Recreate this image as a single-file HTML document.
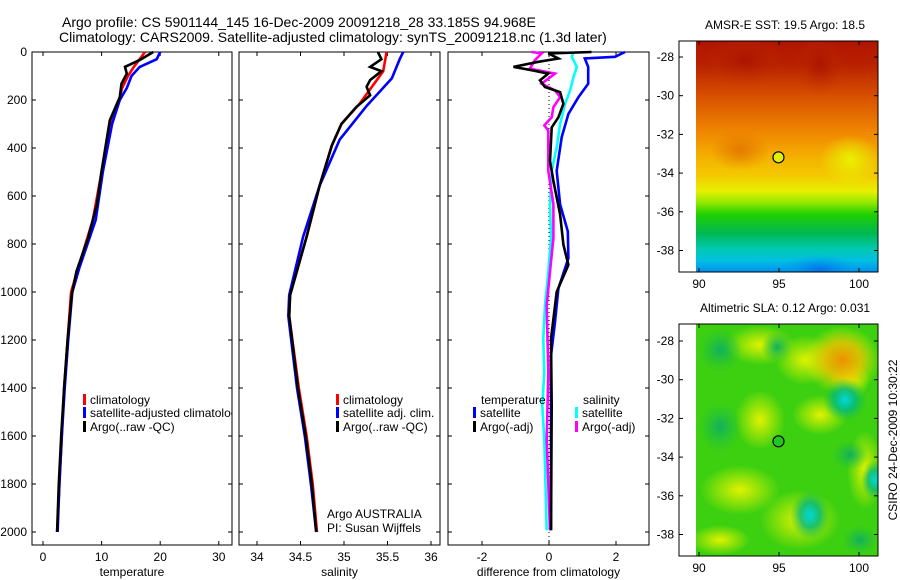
<!DOCTYPE html>
<html><head><meta charset="utf-8"><style>
html,body{margin:0;padding:0;background:#fff;}
svg{display:block;font-family:"Liberation Sans",sans-serif;}
text{fill:#000;}
</style></head><body>
<svg id="fig" width="900" height="580" viewBox="0 0 900 580">
<defs>
<clipPath id="clipSst"><rect x="696" y="41" width="182" height="231"/></clipPath>
<clipPath id="clipSla"><rect x="696" y="324" width="182" height="232"/></clipPath>
<clipPath id="clipP1"><rect x="32" y="52" width="200" height="493"/></clipPath>
<linearGradient id="sstGrad" x1="0" y1="0" x2="0" y2="1">
<stop offset="0" stop-color="#b01400"/>
<stop offset="0.1" stop-color="#b82000"/>
<stop offset="0.24" stop-color="#d85000"/>
<stop offset="0.4" stop-color="#f08800"/>
<stop offset="0.5" stop-color="#f4b000"/>
<stop offset="0.58" stop-color="#f4c800"/>
<stop offset="0.65" stop-color="#e8f000"/>
<stop offset="0.7" stop-color="#90e800"/>
<stop offset="0.75" stop-color="#20d000"/>
<stop offset="0.83" stop-color="#00b850"/>
<stop offset="0.9" stop-color="#00c8b0"/>
<stop offset="0.95" stop-color="#00c0e0"/>
<stop offset="1" stop-color="#0090f0"/>
</linearGradient>
<radialGradient id="blobY"><stop offset="0" stop-color="#e8f400" stop-opacity="0.95"/><stop offset="1" stop-color="#e8f400" stop-opacity="0"/></radialGradient>
<radialGradient id="blobO"><stop offset="0" stop-color="#f09000"/><stop offset="0.5" stop-color="#f4c000" stop-opacity="0.8"/><stop offset="1" stop-color="#e8f400" stop-opacity="0"/></radialGradient>
<radialGradient id="blobC"><stop offset="0" stop-color="#00d8e0"/><stop offset="0.5" stop-color="#00b880" stop-opacity="0.8"/><stop offset="1" stop-color="#20c040" stop-opacity="0"/></radialGradient>
<radialGradient id="blobT"><stop offset="0" stop-color="#10b060"/><stop offset="1" stop-color="#20c040" stop-opacity="0"/></radialGradient>
<radialGradient id="blobR"><stop offset="0" stop-color="#a81000" stop-opacity="0.8"/><stop offset="1" stop-color="#c03000" stop-opacity="0"/></radialGradient>
<radialGradient id="blobB"><stop offset="0" stop-color="#0070e8"/><stop offset="1" stop-color="#00a0f0" stop-opacity="0"/></radialGradient>
<radialGradient id="blobOr"><stop offset="0" stop-color="#e07000" stop-opacity="0.8"/><stop offset="1" stop-color="#e07000" stop-opacity="0"/></radialGradient>
</defs>
<text x="62" y="27" font-size="14">Argo profile: CS 5901144_145 16-Dec-2009 20091218_28 33.185S 94.968E</text>
<text x="59" y="42" font-size="14">Climatology: CARS2009. Satellite-adjusted climatology: synTS_20091218.nc (1.3d later)</text>
<g id="plots"></g>
</svg>
<script>
// ---------- data ----------
const depthClimT = [0,30,62,100,150,200,300,500,700,900,1000,1200,1400,1600,1800,2000];
const climT = [17.4,16.5,15.5,14.5,13.5,13,11.6,10,8.5,6.0,4.8,4.2,3.6,3.2,2.8,2.4];
const satT = [20,19.4,16.5,15.1,14.3,13.1,11.8,10.2,9,6.2,5.0,4.3,3.7,3.2,2.8,2.5];
const depthArgoT = [0,32,62,90,132,188,285,495,635,775,915,1013,1200,1400,1600,1800,2000];
const argoT = [18.8,16.6,14,14.3,13.4,13.1,11.4,10,9.2,7.7,5.7,4.9,4.2,3.6,3.1,2.7,2.4];

const depthArgoS = [0,30,62,80,117,145,180,230,300,390,557,770,1013,1100,1400,1600,1800,2000];
const argoS = [35.39,35.43,35.30,35.43,35.30,35.26,35.30,35.14,34.97,34.86,34.72,34.57,34.38,34.37,34.47,34.56,34.63,34.68];
const depthClimS = [0,80,215,300,390,557,770,1013,1100,1400,1600,1800,2000];
const climS = [35.49,35.45,35.18,34.97,34.86,34.72,34.57,34.38,34.37,34.48,34.57,34.64,34.69];
const depthSatS = [0,30,110,225,365,557,770,1013,1100,1400,1600,1800,2000];
const satS = [35.68,35.64,35.55,35.26,34.95,34.72,34.53,34.37,34.36,34.46,34.55,34.62,34.68];

const depthDSatT = [0,20,27,62,132,188,258,355,495,635,747,859,985,1125,1265,1475,1993];
const diffSatT = [2.27,1.97,1.07,1.17,1.17,0.88,0.58,0.38,0.23,0.33,0.56,0.58,0.28,0.18,0.06,0.06,0.06];
const depthDArgoT = [0,6,27,41,62,76,90,118,146,167,216,272,314,454,537,677,803,887,999,1195,1475,1993];
const diffArgoT = [1.27,-0.02,0.28,-0.32,-1.06,-0.52,-0.02,-0.27,-0.12,0.33,0.43,0.28,0.08,0.03,0.13,0.33,0.43,0.58,0.23,0.06,0.08,0.06];
const depthDSatS = [0,20,62,104,160,216,300,397,495,635,775,915,1055,1195,1335,1475,1614,1993];
const diffSatS = [0.73,0.68,0.83,0.73,0.63,0.48,0.33,0.23,0.08,0.03,0.06,-0.02,-0.12,-0.17,-0.14,-0.2,-0.14,-0.07];
const depthDArgoS = [0,6,34,69,90,132,160,188,230,272,306,327,495,635,775,915,1055,1335,1614,1993];
const diffArgoS = [-0.52,-0.22,-0.42,-0.57,0.18,-0.22,0.18,0.33,0.13,0.08,-0.14,-0.02,-0.02,0.13,0.13,0.03,-0.07,-0.02,-0.07,0.03];

const depthTicks = [0,200,400,600,800,1000,1200,1400,1600,1800,2000];
const tempTicks = [0,10,20,30];
const salTicks = [34,34.5,35,35.5,36];
const salTickLabels = ["34","34.5","35","35.5","36"];
const diffTicks = [-2,0,2];
const lonTicks = [90,95,100];
const latTicks = [-28,-30,-32,-34,-36,-38];
const argoLon = [94.968];
const argoLat = [-33.185];

// ---------- helpers ----------
const NS = "http://www.w3.org/2000/svg";
const root = document.getElementById('plots');
function mk(tag, attrs, parent){const e=document.createElementNS(NS,tag);for(const k in attrs)e.setAttribute(k,attrs[k]);(parent||root).appendChild(e);return e;}
const yD = d => 52 + d*0.24;
const xT = v => 43 + (v-0)*5.86;
const xS = v => 257 + (v-34)*87;
const xD = v => 549 + v*33.5;

function line(depths, vals, xf, color, name){
  const pts = depths.map((d,i)=>xf(vals[i]).toFixed(1)+','+yD(d).toFixed(1)).join(' ');
  const p = mk('polyline',{points:pts,fill:'none',stroke:color,'stroke-width':2.6,'stroke-linejoin':'miter'});
  
  
}
function panel(x0,x1,ticks,labels,xf,xtitle,name,showDepth){
  const g = mk('g',{});
  
  
  mk('rect',{x:x0,y:52,width:x1-x0,height:493,fill:'none',stroke:'#000','stroke-width':1},g);
  ticks.forEach((t,i)=>{
    const x=xf(t);
    mk('line',{x1:x,x2:x,y1:545,y2:541,stroke:'#000'},g);
    mk('line',{x1:x,x2:x,y1:52,y2:56,stroke:'#000'},g);
    const tx=mk('text',{x:x,y:561,'font-size':12,'text-anchor':'middle'},g);
    tx.textContent=labels[i];
    
    
  });
  depthTicks.forEach(d=>{
    const y=yD(d);
    mk('line',{x1:x0,x2:x0+4,y1:y,y2:y,stroke:'#000'},g);
    mk('line',{x1:x1,x2:x1-4,y1:y,y2:y,stroke:'#000'},g);
    if(showDepth){
      const tx=mk('text',{x:27,y:y+4,'font-size':12,'text-anchor':'end'},g);
      tx.textContent=d;
      
      
    }
  });
  const tt=mk('text',{x:(x0+x1)/2,y:576,'font-size':12,'text-anchor':'middle'},g);
  tt.textContent=xtitle;
  
  
}
function legendItem(x,y,color,label,name,clip){
  const r=mk('rect',{x:x,y:y-6,width:3,height:11,fill:color});
  
  
  const t=mk('text',{x:x+7,y:y+4,'font-size':12});
  if(clip) t.setAttribute('clip-path', clip);
  t.textContent=label;
  
  
}
function txt(x,y,s,name,extra){
  const t=mk('text',Object.assign({x:x,y:y,'font-size':12},extra||{}));
  t.textContent=s;
  
  
  return t;
}

// ---------- panel 1 temperature ----------
panel(32,232,tempTicks,tempTicks.map(String),xT,'temperature','temperature-panel',true);
line(depthClimT,climT,xT,'#ff0000','temperature-climatology-line');
line(depthClimT,satT,xT,'#0000ff','temperature-satellite-line');
line(depthArgoT,argoT,xT,'#000000','temperature-argo-line');
legendItem(83,400,'#ff0000','climatology','legend-climatology');
legendItem(83,413,'#0000ff','satellite-adjusted climatology','legend-satellite-adjusted','url(#clipP1)');
legendItem(83,427,'#000000','Argo(..raw -QC)','legend-argo');

// ---------- panel 2 salinity ----------
panel(239,440,salTicks,salTickLabels,xS,'salinity','salinity-panel',false);
line(depthClimS,climS,xS,'#ff0000','salinity-climatology-line');
line(depthSatS,satS,xS,'#0000ff','salinity-satellite-line');
line(depthArgoS,argoS,xS,'#000000','salinity-argo-line');
legendItem(336,400,'#ff0000','climatology','legend-sal-climatology');
legendItem(336,413,'#0000ff','satellite adj. clim.','legend-sal-satellite');
legendItem(336,427,'#000000','Argo(..raw -QC)','legend-sal-argo');
txt(327,518,'Argo AUSTRALIA','argo-australia-label');
txt(327,532,'PI: Susan Wijffels','pi-label');

// ---------- panel 3 difference ----------
panel(448,649,diffTicks,diffTicks.map(String),xD,'difference from climatology','difference-panel',false);
mk('line',{x1:xD(0),x2:xD(0),y1:52,y2:545,stroke:'#000','stroke-dasharray':'1,3'});
line(depthDSatS,diffSatS,xD,'#00ffff','salinity-satellite-diff-line');
line(depthDArgoS,diffArgoS,xD,'#ff00ff','salinity-argo-diff-line');
line(depthDSatT,diffSatT,xD,'#0000ff','temperature-satellite-diff-line');
line(depthDArgoT,diffArgoT,xD,'#000000','temperature-argo-diff-line');
txt(481,404,'temperature','legend-temperature-heading');
legendItem(473,413,'#0000ff','satellite','legend-diff-temp-satellite');
legendItem(473,427,'#000000','Argo(-adj)','legend-diff-temp-argo');
txt(583,404,'salinity','legend-salinity-heading');
legendItem(575,413,'#00ffff','satellite','legend-diff-sal-satellite');
legendItem(575,427,'#ff00ff','Argo(-adj)','legend-diff-sal-argo');

// ---------- maps ----------
const lonX = v => 699 + (v-90)*16;
function mapAxes(top,bottom,lat0y,title,name){
  const latY = v => lat0y + (-28 - v)*19.35;
  const g=mk('g',{});
  
  
  mk('rect',{x:679,y:top,width:199,height:bottom-top,fill:'none',stroke:'#000'},g);
  lonTicks.forEach(v=>{
    const x=lonX(v);
    mk('line',{x1:x,x2:x,y1:bottom,y2:bottom-4,stroke:'#000'},g);
    mk('line',{x1:x,x2:x,y1:top,y2:top+4,stroke:'#000'},g);
    const t=mk('text',{x:x,y:bottom+16,'font-size':12,'text-anchor':'middle'},g);
    t.textContent=v;
    
    
  });
  latTicks.forEach(v=>{
    const y=latY(v);
    mk('line',{x1:679,x2:683,y1:y,y2:y,stroke:'#000'},g);
    mk('line',{x1:878,x2:874,y1:y,y2:y,stroke:'#000'},g);
    const t=mk('text',{x:674,y:y+4,'font-size':12,'text-anchor':'end'},g);
    t.textContent=v;
    
    
  });
  const tt=mk('text',{x:785,y:top-12,'font-size':12,'text-anchor':'middle'},g);
  tt.textContent=title;
  
  
  const c=mk('circle',{cx:lonX(argoLon[0]),cy:latY(argoLat[0]),r:5.5,fill:name==='sst-map'?'#e0f000':'#20c820',stroke:'#000','stroke-width':1.2});
  
  
}
// SST map
const sst=mk('g',{'clip-path':'url(#clipSst)'});


mk('rect',{x:696,y:41,width:182,height:231,fill:'url(#sstGrad)'},sst);
mk('ellipse',{cx:745,cy:60,rx:40,ry:25,fill:'url(#blobR)'},sst);
mk('ellipse',{cx:820,cy:65,rx:25,ry:30,fill:'url(#blobR)'},sst);
mk('ellipse',{cx:740,cy:150,rx:30,ry:20,fill:'url(#blobOr)'},sst);
mk('ellipse',{cx:850,cy:160,rx:30,ry:25,fill:'url(#blobY)'},sst);
mk('ellipse',{cx:820,cy:270,rx:40,ry:16,fill:'url(#blobB)'},sst);
mapAxes(41,272,57,'AMSR-E SST: 19.5 Argo: 18.5','sst-map');

// SLA map
const sla=mk('g',{'clip-path':'url(#clipSla)'});


mk('rect',{x:696,y:324,width:182,height:232,fill:'#3cd010'},sla);
[[760,345,35,20],[805,360,30,25],[760,420,25,30],[820,415,28,20],[740,490,40,25],[800,520,40,30],[865,470,18,40],[850,380,20,20],[720,540,30,15]].forEach(b=>mk('ellipse',{cx:b[0],cy:b[1],rx:b[2],ry:b[3],fill:'url(#blobY)'},sla));
mk('ellipse',{cx:842,cy:360,rx:38,ry:34,fill:'url(#blobO)'},sla);
[[845,400,22,22],[810,515,20,25],[875,480,14,20]].forEach(b=>mk('ellipse',{cx:b[0],cy:b[1],rx:b[2],ry:b[3],fill:'url(#blobC)'},sla));
[[720,350,22,22],[720,427,22,25],[777,347,16,16],[860,540,18,15],[850,455,18,15]].forEach(b=>mk('ellipse',{cx:b[0],cy:b[1],rx:b[2],ry:b[3],fill:'url(#blobT)'},sla));
mapAxes(324,556,341,'Altimetric SLA: 0.12 Argo: 0.031','sla-map');

const stamp=txt(0,0,'CSIRO 24-Dec-2009 10:30:22','timestamp-label',{transform:'translate(897,440) rotate(-90)','text-anchor':'middle'});
</script>
</body></html>
